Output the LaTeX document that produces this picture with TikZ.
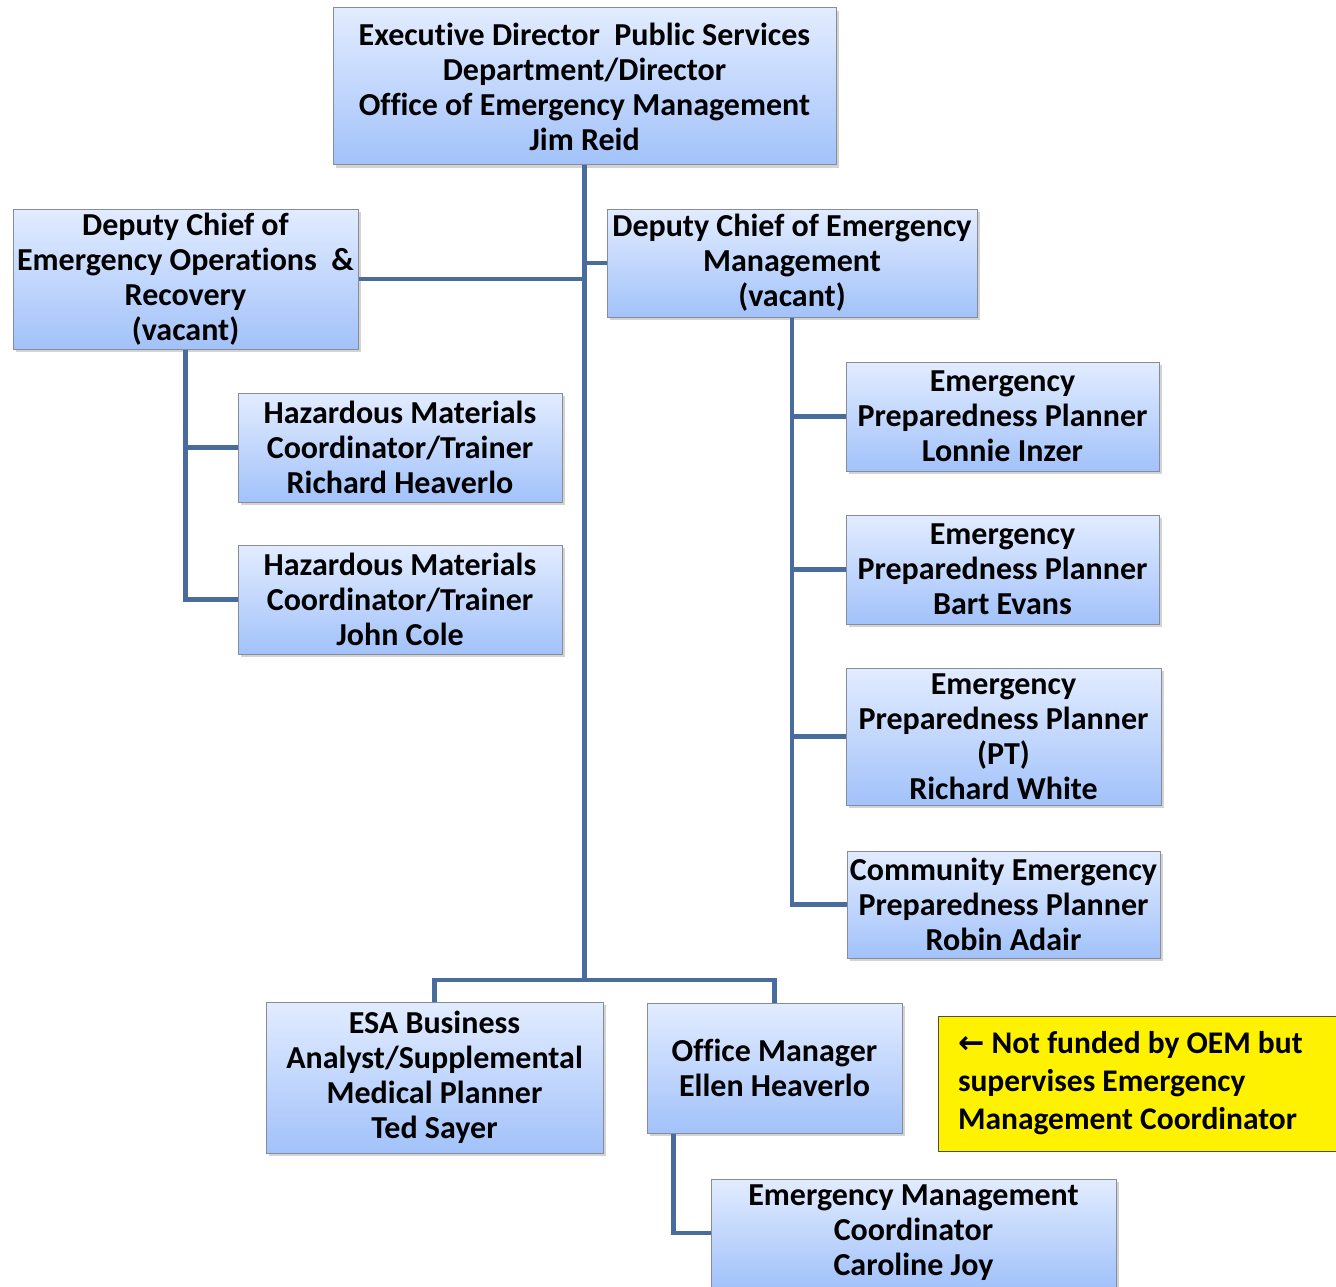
\documentclass[tikz,border=0pt]{standalone}
\usepackage{fontspec}
\setmainfont{Carlito}[Ligatures=NoCommon]
\newfontfamily\arrowfont{DejaVu Sans}
\usetikzlibrary{shadows}
\definecolor{boxtop}{RGB}{226,236,255}
\definecolor{boxbot}{RGB}{162,194,250}
\definecolor{boxline}{RGB}{135,140,150}
\definecolor{linkblue}{RGB}{72,108,158}
\begin{document}
\begin{tikzpicture}[x=1pt,y=-1pt,
  box/.style={draw=boxline, line width=1pt, top color=boxtop, bottom color=boxbot, align=center, inner sep=0pt,
    font=\bfseries\fontsize{32}{35}\selectfont,
    drop shadow={shadow xshift=3pt,shadow yshift=-3pt,opacity=0.35}},
  link/.style={draw=linkblue, line width=4.5pt},
  note/.style={draw=black!70, line width=1pt, fill=yellow, align=flush left, inner xsep=20pt, inner ysep=0pt,
    text width=358pt, font=\bfseries\fontsize{31.5}{38}\selectfont}]
\useasboundingbox (0,0) rectangle (1336,1287);
\node[box, minimum width=503pt, minimum height=157pt] (top) at (584.5,86.5) {Executive Director\ \ Public Services\\Department/Director\\Office of Emergency Management\\Jim Reid};
\node[box, minimum width=345pt, minimum height=140pt] (dcops) at (185.5,279) {Deputy Chief of\\Emergency Operations\ \ \&\\Recovery\\(vacant)};
\node[box, minimum width=370pt, minimum height=108pt] (dcem) at (792,263) {Deputy Chief of Emergency\\Management\\(vacant)};
\node[box, minimum width=324pt, minimum height=109pt] (haza) at (400,447.5) {Hazardous Materials\\Coordinator/Trainer\\Richard Heaverlo};
\node[box, minimum width=324pt, minimum height=109pt] (hazb) at (400,599.5) {Hazardous Materials\\Coordinator/Trainer\\John Cole};
\node[box, minimum width=313pt, minimum height=109pt] (eppa) at (1002.5,416.5) {Emergency\\Preparedness Planner\\Lonnie Inzer};
\node[box, minimum width=313pt, minimum height=109pt] (eppb) at (1002.5,569.5) {Emergency\\Preparedness Planner\\Bart Evans};
\node[box, minimum width=315pt, minimum height=137pt] (eppc) at (1003.5,736.5) {Emergency\\Preparedness Planner\\(PT)\\Richard White};
\node[box, minimum width=313pt, minimum height=107pt] (cepp) at (1003.5,904.5) {Community Emergency\\Preparedness Planner\\Robin Adair};
\node[box, minimum width=337pt, minimum height=151pt] (esa) at (434.5,1077.5) {ESA Business\\Analyst/Supplemental\\Medical Planner\\Ted Sayer};
\node[box, minimum width=255pt, minimum height=130pt] (office) at (774.5,1068) {Office Manager\\Ellen Heaverlo};
\node[box, minimum width=405pt, minimum height=108pt] (emc) at (913.5,1233) {Emergency Management\\Coordinator\\Caroline Joy};
\node[note, minimum width=398pt, minimum height=135pt] (oemnote) at (1137,1083.5) {{\arrowfont ←} Not funded by OEM but\\supervises Emergency\\Management Coordinator};
\coordinate (jb) at (584.5,980);
\draw[link] (top.south) -- (jb);
\draw[link] (dcops.east) -- (dcops.east -| top.south);
\draw[link] (dcem.west) -- (dcem.west -| top.south);
\draw[link] (dcops.south) |- (haza.west);
\draw[link] (dcops.south) |- (hazb.west);
\draw[link] (dcem.south) |- (eppa.west);
\draw[link] (dcem.south) |- (eppb.west);
\draw[link] (dcem.south) |- (eppc.west);
\draw[link] (dcem.south) |- (cepp.west);
\draw[link] (esa.north) |- (jb) -| (office.north);
\draw[link] ([xshift=27pt]office.south west) |- (emc.west);
\end{tikzpicture}
\end{document}
